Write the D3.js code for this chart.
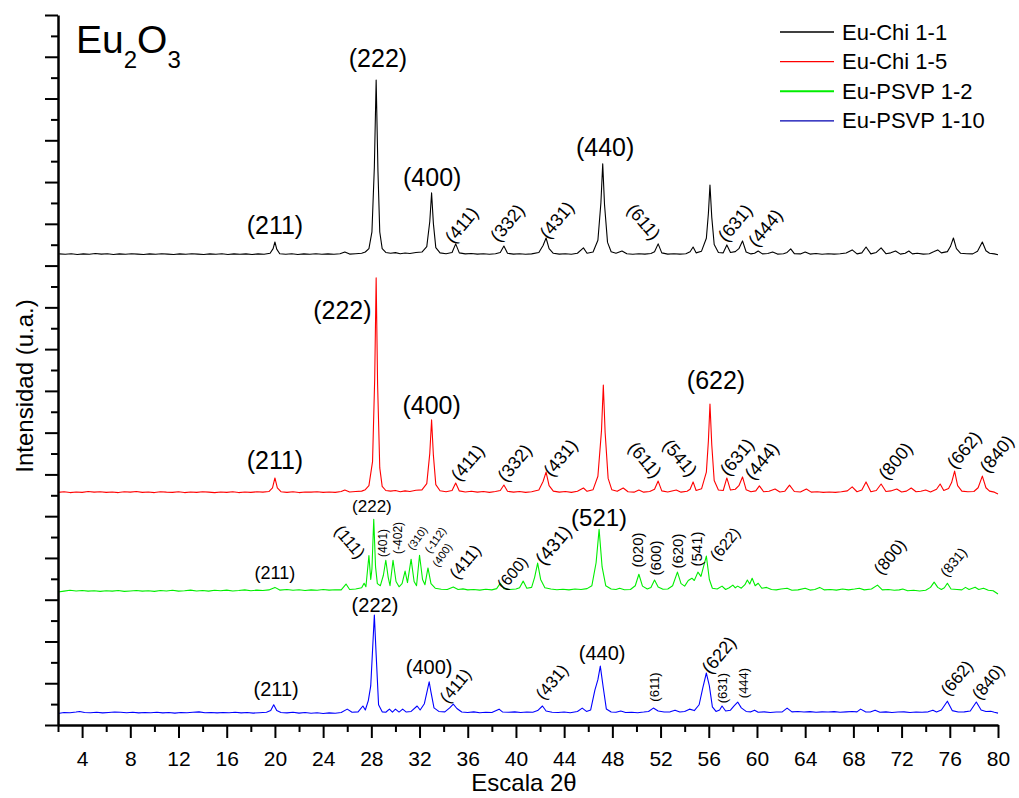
<!DOCTYPE html>
<html>
<head>
<meta charset="utf-8">
<script src="https://cdn.jsdelivr.net/npm/d3@7"></script>
<style>
  body { margin: 0; background: #fff; }
  svg { display: block; font-family: "Liberation Sans", Arial, Helvetica, sans-serif; }
</style>
</head>
<body>
<svg id="xrd"></svg>
<script>
// series names / colours (legend order)
const seriesNames = ["Eu-Chi 1-1", "Eu-Chi 1-5", "Eu-PSVP 1-2", "Eu-PSVP 1-10"];
const seriesColors = ["#000000", "#ff0000", "#00ee00", "#0000ff"];
// vertical stacking offset of each pattern (a.u.)
const seriesOffsets = [2251, 1111, 637, 57];

// [2theta, intensity above offset]
const chi11 = [
  [2.1,5],[2.6,3],[3.1,6],[3.6,2],[4.1,5],[4.6,3],[5.1,7],[5.6,4],[6.1,6],[6.6,2],[7.1,5],[7.6,3],[8.1,6],[8.6,4],[9.1,2],[9.6,5],[10.1,3],[10.6,6],[11.1,4],[11.6,2],[12.1,5],[12.6,3],[13.1,6],[13.6,4],[14.1,2],[14.6,5],[15.1,3],[15.6,6],[16.1,2],[16.6,5],[17.1,3],[17.6,5],[18.1,2],[18.6,5],[19.1,3],[19.6,8],[19.85,30],[20.0,62],[20.15,28],[20.4,6],[20.9,3],[21.4,6],[21.9,2],[22.4,5],[22.9,3],[23.4,6],[23.9,3],[24.4,5],[24.9,3],[25.4,6],[25.8,14],[26.2,4],[26.7,6],[27.2,8],[27.5,14],[27.8,30],[28.05,110],[28.25,420],[28.4,838],[28.55,400],[28.7,110],[28.9,30],[29.2,12],[29.6,8],[30.0,11],[30.4,6],[30.8,9],[31.2,7],[31.7,12],[32.2,14],[32.6,40],[32.85,160],[33.0,297],[33.15,150],[33.35,35],[33.7,10],[34.2,6],[34.7,12],[35.0,53],[35.3,10],[35.8,5],[36.3,7],[36.8,4],[37.3,6],[37.8,3],[38.3,6],[38.7,12],[39.0,43],[39.3,8],[39.8,4],[40.3,6],[40.8,3],[41.3,5],[41.9,12],[42.25,45],[42.5,81],[42.75,30],[43.1,8],[43.6,4],[44.1,6],[44.6,3],[45.1,8],[45.6,34],[45.9,8],[46.4,14],[46.8,70],[47.05,250],[47.2,436],[47.35,240],[47.6,60],[47.9,15],[48.3,8],[48.8,19],[49.2,6],[49.7,3],[50.2,6],[50.7,4],[51.2,7],[51.5,15],[51.8,53],[52.1,10],[52.6,4],[53.1,6],[53.6,4],[54.1,6],[54.45,15],[54.7,38],[54.95,10],[55.4,18],[55.8,80],[55.97,200],[56.1,335],[56.25,180],[56.45,50],[56.8,12],[57.2,10],[57.5,48],[57.8,12],[58.2,16],[58.5,30],[58.8,67],[59.1,14],[59.5,5],[59.8,8],[60.1,19],[60.45,5],[60.9,7],[61.3,14],[61.7,4],[62.2,6],[62.5,12],[62.8,29],[63.1,6],[63.6,5],[64.0,14],[64.4,4],[64.9,7],[65.4,3],[65.9,6],[66.4,4],[66.9,6],[67.4,9],[67.9,24],[68.3,5],[68.7,10],[69.05,38],[69.45,5],[69.9,12],[70.3,34],[70.7,6],[71.1,10],[71.5,19],[71.9,4],[72.3,8],[72.6,19],[72.9,5],[73.3,8],[73.8,4],[74.3,6],[74.7,16],[75.0,24],[75.3,10],[75.8,16],[76.05,40],[76.3,81],[76.55,30],[76.9,8],[77.4,6],[77.9,5],[78.3,18],[78.7,62],[79.0,20],[79.3,8],[79.7,5],[80.0,1]
];

const chi15 = [
  [2.0,3],[2.5,6],[3.0,2],[3.5,5],[4.0,3],[4.5,7],[5.0,4],[5.5,6],[6.0,3],[6.5,5],[7.0,2],[7.5,6],[8.0,4],[8.5,7],[9.0,3],[9.5,5],[10.0,2],[10.5,6],[11.0,4],[11.5,3],[12.0,6],[12.5,2],[13.0,5],[13.5,3],[14.0,6],[14.5,4],[15.0,2],[15.5,5],[16.0,3],[16.5,6],[17.0,2],[17.5,5],[18.0,3],[18.5,6],[19.0,4],[19.5,7],[19.8,25],[20.0,72],[20.2,25],[20.5,6],[21.0,3],[21.5,6],[22.0,2],[22.5,5],[23.0,4],[23.5,6],[24.0,3],[24.5,5],[25.0,3],[25.5,7],[25.8,14],[26.2,5],[26.7,7],[27.2,9],[27.5,16],[27.8,35],[28.1,150],[28.28,550],[28.4,1030],[28.52,520],[28.7,120],[28.9,32],[29.2,12],[29.6,9],[30.0,12],[30.4,6],[30.8,10],[31.2,7],[31.7,13],[32.2,15],[32.6,45],[32.85,190],[33.0,350],[33.15,180],[33.35,40],[33.7,11],[34.2,6],[34.7,12],[35.0,48],[35.3,10],[35.8,5],[36.3,8],[36.8,4],[37.3,7],[37.8,3],[38.3,7],[38.7,12],[39.0,38],[39.3,8],[39.8,4],[40.3,7],[40.8,3],[41.3,6],[41.9,14],[42.25,55],[42.5,100],[42.75,35],[43.1,9],[43.6,4],[44.1,7],[44.6,3],[45.1,8],[45.6,24],[45.9,8],[46.4,16],[46.8,80],[47.1,300],[47.25,517],[47.4,290],[47.65,70],[47.95,16],[48.4,8],[48.9,24],[49.3,6],[49.8,4],[50.2,14],[50.6,4],[51.1,7],[51.5,18],[51.8,57],[52.1,10],[52.6,5],[53.3,14],[53.7,4],[54.2,8],[54.45,18],[54.7,53],[54.95,12],[55.4,20],[55.8,100],[55.97,250],[56.1,426],[56.25,230],[56.45,60],[56.8,14],[57.2,12],[57.5,72],[57.8,14],[58.2,18],[58.5,35],[58.8,77],[59.1,16],[59.5,6],[59.9,10],[60.2,34],[60.55,6],[61.0,8],[61.5,19],[61.9,5],[62.3,8],[62.7,38],[63.1,7],[63.6,5],[64.1,19],[64.5,4],[65.0,6],[65.5,3],[66.0,5],[66.5,3],[67.0,6],[67.5,10],[67.9,29],[68.3,6],[68.7,14],[69.05,53],[69.45,6],[69.9,12],[70.3,43],[70.7,7],[71.1,10],[71.6,19],[72.0,5],[72.4,9],[72.8,24],[73.2,6],[73.6,8],[74.0,14],[74.4,5],[74.9,18],[75.2,43],[75.5,12],[75.9,22],[76.15,50],[76.4,105],[76.65,35],[77.0,9],[77.5,6],[78.0,7],[78.35,25],[78.7,81],[79.0,25],[79.3,9],[79.7,4],[80.0,-5]
];

const psvp12 = [
  [2.0,0],[2.5,4],[3.0,8],[3.5,5],[4.0,7],[4.5,4],[5.0,6],[5.5,3],[6.0,6],[6.5,4],[7.0,7],[7.5,3],[8.0,5],[8.5,7],[9.0,4],[9.5,6],[10.0,3],[10.5,7],[11.0,5],[11.5,8],[12.0,4],[12.5,6],[13.0,9],[13.5,5],[14.0,7],[14.5,4],[15.0,8],[15.5,6],[16.0,9],[16.5,5],[17.0,7],[17.5,10],[18.0,6],[18.5,9],[19.0,7],[19.5,10],[20.0,22],[20.4,9],[21.0,12],[21.5,8],[22.0,11],[22.5,7],[23.0,10],[23.5,8],[24.0,12],[24.5,9],[25.0,11],[25.5,10],[25.9,38],[26.2,12],[26.7,14],[27.2,20],[27.4,42],[27.55,25],[27.8,175],[27.95,60],[28.05,110],[28.2,348],[28.35,120],[28.5,40],[28.75,30],[29.0,80],[29.2,152],[29.4,70],[29.55,30],[29.8,152],[30.05,50],[30.3,25],[30.55,40],[30.8,100],[31.0,45],[31.3,157],[31.55,50],[31.75,30],[32.0,176],[32.25,60],[32.45,35],[32.7,115],[32.95,40],[33.3,18],[33.8,13],[34.3,12],[34.8,24],[35.2,12],[35.6,15],[36.0,10],[36.5,12],[37.0,9],[37.5,13],[38.0,10],[38.4,16],[38.7,42],[39.0,16],[39.5,12],[40.0,14],[40.3,20],[40.6,52],[40.9,18],[41.3,22],[41.55,70],[41.8,138],[42.05,60],[42.4,20],[42.9,14],[43.4,11],[43.9,13],[44.4,10],[44.9,14],[45.4,12],[45.9,16],[46.3,30],[46.65,140],[46.9,300],[47.15,120],[47.45,30],[47.9,14],[48.3,12],[48.6,18],[49.0,11],[49.5,12],[49.9,30],[50.2,85],[50.5,28],[50.9,14],[51.2,22],[51.5,57],[51.8,24],[52.2,13],[52.6,14],[53.0,30],[53.4,95],[53.7,40],[54.0,28],[54.3,55],[54.6,66],[54.8,55],[55.1,95],[55.35,75],[55.8,172],[56.05,60],[56.3,18],[56.7,14],[57.1,28],[57.4,12],[57.7,20],[58.0,33],[58.2,20],[58.4,28],[58.7,18],[59.0,35],[59.2,57],[59.4,38],[59.6,66],[59.85,30],[60.1,42],[60.4,18],[60.8,22],[61.2,12],[61.6,10],[62.0,14],[62.5,18],[62.9,8],[63.4,10],[64.0,18],[64.4,9],[64.8,12],[65.2,22],[65.6,10],[66.1,12],[66.6,9],[67.1,14],[67.6,10],[68.1,14],[68.5,18],[68.9,10],[69.5,14],[70.0,33],[70.4,10],[70.9,12],[71.4,8],[71.8,10],[72.1,14],[72.5,6],[73.0,8],[73.5,5],[74.0,8],[74.4,22],[74.7,47],[75.0,22],[75.3,12],[75.55,20],[75.8,42],[76.1,14],[76.6,12],[77.0,10],[77.3,22],[77.6,12],[78.1,23],[78.4,12],[78.8,18],[79.2,8],[79.6,6],[80.0,-10]
];

const psvp110 = [
  [2.0,-2],[2.5,3],[3.0,2],[3.5,5],[3.8,8],[4.2,3],[4.7,2],[5.2,4],[5.7,1],[6.2,3],[6.7,5],[7.2,4],[7.7,2],[8.2,4],[8.7,1],[9.2,3],[9.7,2],[10.2,4],[10.7,1],[11.2,3],[11.7,0],[12.2,3],[12.7,2],[13.2,4],[13.7,6],[14.2,2],[14.7,3],[15.2,1],[15.7,3],[16.2,2],[16.7,4],[17.2,1],[17.7,3],[18.2,0],[18.7,2],[19.3,4],[19.65,12],[19.9,40],[20.15,12],[20.5,3],[21.0,1],[21.5,4],[22.0,0],[22.5,3],[23.0,-1],[23.5,2],[24.0,-2],[24.5,1],[25.0,-1],[25.5,3],[26.0,19],[26.4,4],[26.9,6],[27.3,34],[27.5,15],[27.75,60],[27.95,130],[28.1,300],[28.25,470],[28.4,280],[28.6,40],[28.9,6],[29.2,4],[29.5,19],[29.75,5],[30.0,19],[30.3,5],[30.6,19],[30.9,5],[31.3,8],[31.8,34],[32.05,15],[32.4,45],[32.65,110],[32.8,150],[32.95,100],[33.2,25],[33.6,8],[34.1,6],[34.5,25],[34.8,43],[35.1,22],[35.5,5],[36.0,3],[36.5,6],[37.0,2],[37.5,4],[38.0,3],[38.6,19],[38.9,5],[39.4,4],[39.9,6],[40.4,3],[40.9,5],[41.4,4],[41.8,12],[42.2,34],[42.5,10],[43.0,4],[43.5,3],[44.0,5],[44.5,2],[45.1,8],[45.5,24],[45.85,8],[46.2,15],[46.55,110],[46.8,160],[47.0,225],[47.25,120],[47.5,20],[47.9,5],[48.3,4],[48.7,10],[49.1,3],[49.6,4],[50.1,2],[50.6,5],[51.0,8],[51.4,24],[51.8,10],[52.3,5],[52.8,6],[53.2,14],[53.6,5],[54.0,8],[54.4,19],[54.8,12],[55.2,40],[55.5,120],[55.8,192],[56.05,130],[56.3,30],[56.6,8],[56.9,15],[57.1,34],[57.4,10],[57.8,14],[58.1,35],[58.4,53],[58.7,25],[59.1,8],[59.5,6],[59.8,14],[60.1,4],[60.6,6],[61.1,3],[61.6,5],[62.1,6],[62.5,24],[62.9,6],[63.4,8],[63.9,5],[64.4,7],[64.9,4],[65.4,6],[65.9,5],[66.4,7],[66.9,4],[67.4,6],[67.9,8],[68.3,6],[68.6,19],[69.0,6],[69.4,5],[69.8,14],[70.2,4],[70.7,6],[71.2,3],[71.7,5],[72.2,6],[72.7,3],[73.2,5],[73.7,4],[74.2,6],[74.6,14],[74.9,5],[75.3,15],[75.8,57],[76.2,12],[76.7,5],[77.2,6],[77.7,10],[78.2,53],[78.6,15],[79.0,8],[79.4,9],[79.7,4],[80.0,0]
];

// Miller index annotations: [text, 2theta, a.u., angle, font px]
const labelsChi11 = [
  ["(211)", 20.0, 2394, 0, 25], ["(222)", 28.55, 3194, 0, 25], ["(400)", 33.05, 2624, 0, 25],
  ["(411)", 35.5, 2394, -50, 18], ["(332)", 39.3, 2404, -50, 18], ["(431)", 43.4, 2418, -50, 18],
  ["(440)", 47.4, 2768, 0, 25], ["(611)", 50.6, 2409, 50, 18], ["(631)", 58.2, 2404, -50, 18],
  ["(444)", 60.7, 2380, -50, 18]
];
const labelsChi15 = [
  ["(211)", 20.0, 1269, 0, 25], ["(222)", 25.6, 1987, 0, 25], ["(400)", 33.0, 1532, 0, 25],
  ["(411)", 36.0, 1255, -50, 18], ["(332)", 39.9, 1255, -50, 18], ["(431)", 43.7, 1279, -50, 18],
  ["(611)", 50.7, 1269, 50, 18], ["(541)", 53.6, 1279, 50, 18], ["(622)", 56.6, 1652, 0, 25],
  ["(631)", 58.35, 1283, -50, 18], ["(444)", 60.4, 1264, -50, 18], ["(800)", 71.5, 1264, -50, 18],
  ["(662)", 77.2, 1317, -50, 18], ["(840)", 79.9, 1298, -50, 18]
];
const labelsPsvp12 = [
  ["(211)", 20.0, 728, 0, 18], ["(111)", 26.2, 876, 50, 17], ["(222)", 28.05, 1044, 0, 17],
  ["(401)", 29.0, 872, -90, 12], ["(-402)", 30.2, 896, -90, 12], ["(310)", 31.8, 896, -55, 11],
  ["(-112)", 33.3, 886, -55, 11], ["(400)", 33.87, 814, -55, 11], ["(411)", 35.8, 781, -50, 17],
  ["(600)", 39.7, 728, -50, 16], ["(431)", 43.1, 862, -50, 19], ["(521)", 46.9, 996, 0, 24],
  ["(020)", 50.1, 838, -90, 15], ["(600)", 51.6, 800, -90, 15], ["(620)", 53.4, 833, -90, 15],
  ["(541)", 54.95, 843, -90, 15], ["(622)", 57.35, 867, -50, 16], ["(800)", 71.05, 805, -50, 17],
  ["(831)", 76.3, 781, -50, 14]
];
const labelsPsvp110 = [
  ["(211)", 20.1, 172, 0, 20], ["(222)", 28.3, 575, 0, 20], ["(400)", 32.8, 278, 0, 20],
  ["(411)", 35.0, 187, -50, 17], ["(431)", 43.0, 206, -50, 17], ["(440)", 47.15, 345, 0, 20],
  ["(611)", 51.5, 182, -90, 13], ["(622)", 56.85, 335, -50, 18], ["(631)", 57.1, 177, -90, 13],
  ["(444)", 58.85, 201, -90, 13], ["(662)", 76.6, 225, -50, 17], ["(840)", 79.2, 206, -50, 17]
];

const xMajorTicks = d3.range(4, 81, 4);
const xMinorTicks = d3.range(2, 80, 4);
const yMajorTicks = d3.range(0, 3401, 200);
const yMinorTicks = d3.range(100, 3400, 200);

const traces = [chi11, chi15, psvp12, psvp110];
const labelSets = [labelsChi11, labelsChi15, labelsPsvp12, labelsPsvp110];

function drawGraphic() {
  const width = 1019, height = 798;
  const margin = { top: 15, right: 21, bottom: 73, left: 58 };

  const svg = d3.select("#xrd").attr("width", width).attr("height", height);

  const x = d3.scaleLinear().domain([2, 80]).range([margin.left, width - margin.right]);
  const y = d3.scaleLinear().domain([0, 3400]).range([height - margin.bottom, margin.top]);

  const line = (off) => d3.line()
    .x(d => x(d[0]))
    .y(d => y(d[1] + off));

  // traces
  svg.append("g")
    .attr("fill", "none")
    .attr("stroke-width", 1.1)
    .attr("stroke-linejoin", "round")
    .selectAll("path")
    .data(traces)
    .join("path")
    .attr("stroke", (d, i) => seriesColors[i])
    .attr("d", (d, i) => line(seriesOffsets[i])(d));

  // axes
  const styleAxis = g => {
    g.selectAll("line").attr("stroke", "#000").attr("stroke-width", 2);
    g.selectAll(".domain").attr("stroke", "#000").attr("stroke-width", 2.5);
  };

  svg.append("g")
    .attr("transform", `translate(0,${height - margin.bottom})`)
    .call(d3.axisBottom(x).tickValues(xMinorTicks).tickSize(7).tickFormat("").tickSizeOuter(0))
    .call(g => g.select(".domain").remove())
    .call(styleAxis);

  svg.append("g")
    .attr("transform", `translate(0,${height - margin.bottom})`)
    .call(d3.axisBottom(x).tickValues(xMajorTicks).tickSize(13).tickPadding(13).tickSizeOuter(0))
    .call(styleAxis)
    .call(g => g.selectAll("text")
      .attr("fill", "#000")
      .style("font-size", "21px")
      .style("font-family", "'Liberation Sans', Arial, sans-serif"));

  svg.append("g")
    .attr("transform", `translate(${margin.left},0)`)
    .call(d3.axisLeft(y).tickValues(yMinorTicks).tickSize(7).tickFormat(""))
    .call(g => g.select(".domain").remove())
    .call(styleAxis);

  svg.append("g")
    .attr("transform", `translate(${margin.left},0)`)
    .call(d3.axisLeft(y).tickValues(yMajorTicks).tickSize(13).tickFormat("").tickSizeOuter(0))
    .call(styleAxis);

  // axis titles
  svg.append("text")
    .attr("x", 524).attr("y", 791)
    .attr("text-anchor", "middle")
    .style("font-size", "24px")
    .text("Escala 2\u03b8");

  svg.append("text")
    .attr("transform", "translate(33,386) rotate(-90)")
    .attr("text-anchor", "middle")
    .style("font-size", "24px")
    .text("Intensidad (u.a.)");

  // title Eu2O3
  const title = svg.append("text").attr("x", 76).attr("y", 53).style("font-size", "39px");
  title.append("tspan").text("Eu");
  title.append("tspan").attr("dy", 15).style("font-size", "24px").text("2");
  title.append("tspan").attr("dy", -15).text("O");
  title.append("tspan").attr("dy", 15).style("font-size", "24px").text("3");

  // reflection labels
  labelSets.forEach(set => {
    svg.append("g")
      .selectAll("text")
      .data(set)
      .join("text")
      .attr("transform", d => `translate(${x(d[1])},${y(d[2])}) rotate(${d[3]})`)
      .attr("text-anchor", "middle")
      .attr("dominant-baseline", "central")
      .style("font-size", d => d[4] + "px")
      .text(d => d[0]);
  });

  // legend
  const legend = svg.append("g").attr("transform", "translate(780,32)");
  const item = legend.selectAll("g")
    .data(seriesNames)
    .join("g")
    .attr("transform", (d, i) => `translate(0,${i * 29.6})`);
  item.append("line")
    .attr("x1", 0).attr("x2", 54)
    .attr("stroke", (d, i) => i == 3 ? "#0000b0" : seriesColors[i])
    .attr("stroke-width", (d, i) => i == 2 ? 2 : 1.3);
  item.append("text")
    .attr("x", 62)
    .attr("dominant-baseline", "central")
    .style("font-size", "22px")
    .text(d => d);
}

drawGraphic();
</script>
</body>
</html>
